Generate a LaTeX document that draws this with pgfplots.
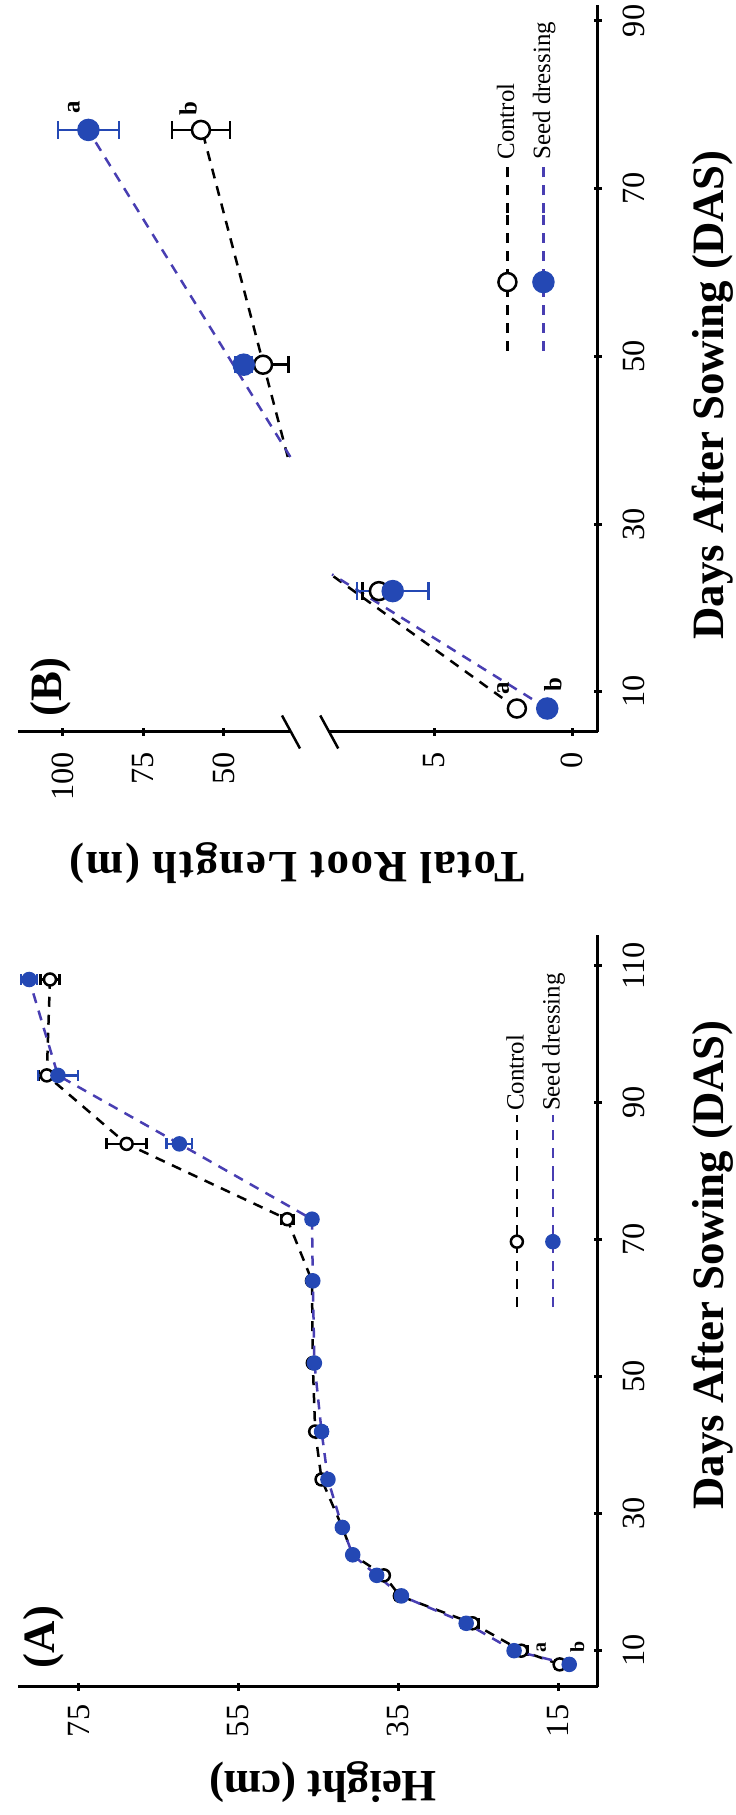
\documentclass[border=0pt]{standalone}
\usepackage{pgfplots}
\pgfplotsset{compat=1.18}
\usepackage{pgfplotstable}
\usepackage{fontspec}
\setmainfont{Liberation Serif}

\definecolor{mblue}{RGB}{36,72,180}
\definecolor{lblue}{RGB}{72,62,178}

% plant height (cm): day, control, sd, seed dressing, sd
\pgfplotstableread{
d   c    ce   s    se
8   14.8 0.5  13.6 0.5
10  19.6 0.8  20.5 0.6
14  25.7 0.8  26.5 0.6
18  34.8 0.6  34.6 0.5
21  36.8 0.5  37.7 0.5
24  40.7 0.5  40.7 0.5
28  42.0 0.5  42.0 0.5
35  44.6 0.5  43.8 0.5
42  45.4 0.5  44.6 0.6
52  45.7 0.5  45.5 0.6
64  45.8 0.5  45.7 0.5
73  48.9 0.8  45.8 0.6
84  69.0 2.5  62.4 1.6
94  79.0 1.0  77.6 2.5
108 78.6 1.2  81.2 1.0
}\dataA

% total root length (m), below the axis break
\pgfplotstableread{
d  c    ce   s    se
8  2.0  0.15 0.9  0.1
22 7.0  0.6  6.5  1.3
}\dataBlow

% total root length (m), above the axis break
\pgfplotstableread{
d  c    ce   s    se
49 37.7 8.0  43.7 2.5
77 57.0 9.0  92.0 9.5
}\dataBhigh

\pgfplotsset{
  rplot/.style={
    scale only axis, anchor=south west,
    tick align=outside, major tick length=3.2bp,
    tick style={line width=1.2bp, black},
    ticklabel style={font=\fontsize{13}{15}\selectfont},
    /pgf/number format/assume math mode=true,
    xticklabel shift=5bp, yticklabel shift=2bp,
    minor tick num=0, clip=false,
    legend cell align=left,
    legend style={draw=none, fill=none, inner sep=0pt,
      font=\fontsize{10}{12}\selectfont, row sep=4bp, nodes={inner sep=1bp}},
  },
  noarrows/.style={
    axis line style={-, line width=1.2bp},
    every inner x axis line/.append style={-},
    every inner y axis line/.append style={-},
    every outer x axis line/.append style={-},
    every outer y axis line/.append style={-},
  },
  ctrl/.style={black, line width=1bp, dash pattern=on 4bp off 3.2bp,
    mark=*, mark options={solid, fill=white, draw=black, line width=1bp}},
  seed/.style={lblue, line width=1bp, dash pattern=on 4bp off 3.2bp,
    mark=*, mark options={solid, fill=mblue, draw=mblue}},
}

\begin{document}
\rotatebox{90}{%
\begin{tikzpicture}

% ---------- (A) height ----------
\begin{axis}[rplot,
  at={(51.2bp,55.2bp)}, width=300.8bp, height=232bp,
  axis lines=left, noarrows,
  xmin=4.7, xmax=114.5, ymin=10, ymax=82.6,
  xtick={10,30,50,70,90,110}, ytick={15,35,55,75},
  legend image code/.code={\draw[mark repeat=2,mark phase=2,#1] plot coordinates {(0bp,0bp) (26.2bp,0bp) (52.4bp,0bp)}; \path (52.4bp,0bp) -- (77bp,0bp);},
  legend style={at={(axis cs:59.9,17.9)}, anchor=west},
]
\addplot[ctrl, mark size=2.4bp, error bars/.cd, y dir=both, y explicit,
  error bar style={solid, line width=1bp, black},
  error mark options={solid, line width=1bp, mark size=2.2bp, rotate=90, black}]
  table[x=d, y=c, y error=ce] {\dataA};
\addlegendentry{Control}
\addplot[seed, mark size=2.6bp, error bars/.cd, y dir=both, y explicit,
  error bar style={solid, line width=1bp, mblue},
  error mark options={solid, line width=1bp, mark size=2.2bp, rotate=90, mblue}]
  table[x=d, y=s, y error=se] {\dataA};
\addlegendentry{Seed dressing}
\node[font=\bfseries\fontsize{8}{9}\selectfont] at (axis cs:10.4,17.1) {a};
\node[font=\bfseries\fontsize{8}{9}\selectfont] at (axis cs:10.6,12.6) {b};
\end{axis}

% ---------- (B) root length, lower part ----------
\begin{axis}[rplot,
  at={(433.2bp,55.2bp)}, width=290.8bp, height=107.5bp,
  axis lines=left, noarrows, yticklabel shift=3bp,
  xmin=5.2, xmax=91.9, ymin=-0.94, ymax=8.8,
  xtick={10,30,50,70,90}, ytick={0,5},
  legend image code/.code={\draw[mark repeat=2,mark phase=2,#1] plot coordinates {(0bp,0bp) (27.5bp,0bp) (55bp,0bp)}; \path (55bp,0bp) -- (75bp,0bp);},
  legend style={at={(axis cs:50.45,1.69)}, anchor=west},
]
\addlegendimage{ctrl, mark size=3.6bp}
\addlegendentry{Control}
\addlegendimage{seed, mark size=4bp}
\addlegendentry{Seed dressing}
\addplot[black, line width=1bp, dash pattern=on 4bp off 3.2bp, forget plot] coordinates {(8,2.0) (24,8.75)};
\addplot[lblue, line width=1bp, dash pattern=on 4bp off 3.2bp, forget plot] coordinates {(8,0.9) (24,8.7)};
\addplot[ctrl, only marks, mark size=3.6bp, forget plot, error bars/.cd, y dir=both, y explicit,
  error bar style={solid, line width=1bp, black},
  error mark options={solid, line width=1bp, mark size=3.5bp, rotate=90, black}]
  table[x=d, y=c, y error=ce] {\dataBlow};
\addplot[seed, only marks, mark size=4bp, forget plot, error bars/.cd, y dir=both, y explicit,
  error bar style={solid, line width=1bp, mblue},
  error mark options={solid, line width=1bp, mark size=3.5bp, rotate=90, mblue}]
  table[x=d, y=s, y error=se] {\dataBlow};
\node[font=\bfseries\fontsize{10}{11}\selectfont] at (axis cs:10.4,2.5) {a};
\node[font=\bfseries\fontsize{10}{11}\selectfont] at (axis cs:10.9,0.7) {b};
\end{axis}

% ---------- (B) root length, upper part ----------
\begin{axis}[rplot,
  at={(433.2bp,178bp)}, width=290.8bp, height=109.2bp,
  axis x line=none, axis y line=left, noarrows, yticklabel shift=3bp,
  xmin=5.2, xmax=91.9, ymin=29, ymax=113.9,
  xtick=\empty, ytick={50,75,100},
]
\addplot[black, line width=1bp, dash pattern=on 4bp off 3.2bp] coordinates {(38,30) (76,56)};
\addplot[lblue, line width=1bp, dash pattern=on 4bp off 3.2bp] coordinates {(38,29.2) (76,90.5)};
\addplot[ctrl, only marks, mark size=3.6bp, error bars/.cd, y dir=both, y explicit,
  error bar style={solid, line width=1bp, black},
  error mark options={solid, line width=1bp, mark size=3.5bp, rotate=90, black}]
  table[x=d, y=c, y error=ce] {\dataBhigh};
\addplot[seed, only marks, mark size=4bp, error bars/.cd, y dir=both, y explicit,
  error bar style={solid, line width=1bp, mblue},
  error mark options={solid, line width=1bp, mark size=3.5bp, rotate=90, mblue}]
  table[x=d, y=s, y error=se] {\dataBhigh};
\node[font=\bfseries\fontsize{10}{11}\selectfont] at (axis cs:79.7,96.5) {a};
\node[font=\bfseries\fontsize{10}{11}\selectfont] at (axis cs:79.5,61) {b};
\end{axis}

% axis break on the y axis of (B)
\draw[line width=1bp] (426.6bp,159.1bp) -- (439.8bp,166.3bp);
\draw[line width=1bp] (426.6bp,174.4bp) -- (439.8bp,181.6bp);

\node[font=\bfseries\fontsize{18}{20}\selectfont] at (220bp,9.2bp) {Days After Sowing (DAS)};
\node[font=\bfseries\fontsize{18}{20}\selectfont] at (568bp,9.2bp) {Days After Sowing (DAS)};
\node[font=\bfseries\fontsize{18}{20}\selectfont, rotate=90] at (13.2bp,165.2bp) {Height (cm)};
\node[font=\bfseries\fontsize{18}{20}\selectfont\addfontfeatures{LetterSpace=3.5}, rotate=90] at (380.8bp,175.6bp) {Total Root Length (m)};
\node[font=\bfseries\fontsize{18}{20}\selectfont] at (71.2bp,276.8bp) {(A)};
\node[font=\bfseries\fontsize{18}{20}\selectfont] at (451.2bp,274bp) {(B)};

\pgfresetboundingbox
\path[use as bounding box] (0,0) rectangle (726bp,294.4bp);
\end{tikzpicture}%
}
\end{document}
